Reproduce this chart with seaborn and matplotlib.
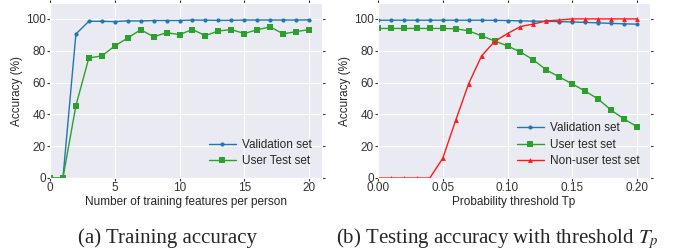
import numpy as np
import pandas as pd
import seaborn as sns
import matplotlib.pyplot as plt

# (a) training accuracy vs number of training features per person
n_features = list(range(21))
train_validation = [0, 0, 90.5, 98.5, 98.5, 98.3, 98.8, 98.7, 99.0, 99.0, 99.0,
                    99.3, 99.2, 99.1, 99.1, 99.3, 99.3, 99.3, 99.3, 99.3, 99.4]
train_user_test = [0, 0, 45.5, 75.5, 76.7, 83.0, 88.0, 93.2, 88.8, 91.3, 90.2,
                   93.3, 89.5, 92.4, 93.3, 90.8, 93.2, 95.0, 90.6, 92.0, 93.3]

# (b) testing accuracy vs probability threshold Tp
thresholds = [0.00, 0.01, 0.02, 0.03, 0.04, 0.05, 0.06, 0.07, 0.08, 0.09, 0.10,
              0.11, 0.12, 0.13, 0.14, 0.15, 0.16, 0.17, 0.18, 0.19, 0.20]
test_validation = [99.2, 99.2, 99.2, 99.2, 99.2, 99.2, 99.2, 99.2, 99.2, 99.1, 99.0,
                   98.8, 98.6, 98.5, 98.3, 98.1, 97.8, 97.5, 97.2, 96.9, 96.7]
test_user = [94.0, 94.0, 94.0, 94.0, 94.0, 94.0, 93.8, 92.5, 89.3, 86.2, 83.0,
             79.2, 74.2, 67.9, 63.5, 59.1, 54.6, 49.6, 42.7, 37.0, 32.3]
test_non_user = [0, 0, 0, 0, 0, 12.4, 36.3, 59.3, 76.8, 85.8, 90.8,
                 95.2, 96.8, 98.8, 99.3, 100, 100, 100, 100, 100, 100]

blue, green, red = "#1f77b4", "#2ca02c", "#ff1a1a"

sns.set_style("darkgrid", {"xtick.bottom": True, "ytick.left": True,
                           "xtick.top": True, "ytick.right": True,
                           "axes.facecolor": "#EAEAF2"})
plt.rcParams["font.family"] = ["Liberation Sans", "DejaVu Sans"]
plt.rcParams.update({"xtick.direction": "out", "ytick.direction": "out",
                     "xtick.major.size": 2, "ytick.major.size": 2,
                     "xtick.color": "#333333", "ytick.color": "#333333",
                     "mathtext.fontset": "stix"})

fs = 8.5
fig = plt.figure(figsize=(6.78, 2.52), dpi=100)
ax1 = fig.add_axes([50 / 678, 74 / 252, 272 / 678, 175 / 252])
ax2 = fig.add_axes([378 / 678, 74 / 252, 272 / 678, 175 / 252])

df1 = pd.DataFrame({"x": n_features, "Validation set": train_validation,
                    "User Test set": train_user_test})
sns.lineplot(data=df1, x="x", y="Validation set", ax=ax1, color=blue, lw=1,
             marker="o", markersize=3, markeredgewidth=0, label="Validation set")
sns.lineplot(data=df1, x="x", y="User Test set", ax=ax1, color=green, lw=1,
             marker="s", markersize=4.5, markeredgewidth=0, label="User Test set")
ax1.set(xlim=(0, 21), ylim=(0, 110), xticks=[0, 5, 10, 15, 20],
        yticks=[0, 20, 40, 60, 80, 100])
ax1.set_xlabel("Number of training features per person", fontsize=fs, labelpad=1)
ax1.set_ylabel("Accuracy (%)", fontsize=fs, labelpad=2)

df2 = pd.DataFrame({"t": thresholds, "val": test_validation,
                    "user": test_user, "nonuser": test_non_user})
sns.lineplot(data=df2, x="t", y="val", ax=ax2, color=blue, lw=1,
             marker="o", markersize=3, markeredgewidth=0, label="Validation set")
sns.lineplot(data=df2, x="t", y="user", ax=ax2, color=green, lw=1,
             marker="s", markersize=4.5, markeredgewidth=0, label="User test set")
sns.lineplot(data=df2, x="t", y="nonuser", ax=ax2, color=red, lw=1,
             marker="^", markersize=3.5, markeredgewidth=0, label="Non-user test set")
ax2.set(xlim=(0, 0.21), ylim=(0, 110), xticks=[0, 0.05, 0.10, 0.15, 0.20],
        yticks=[0, 20, 40, 60, 80, 100])
ax2.set_xticklabels(["0.00", "0.05", "0.10", "0.15", "0.20"])
ax2.set_xlabel("Probability threshold Tp", fontsize=fs, labelpad=1)
ax2.set_ylabel("Accuracy (%)", fontsize=fs, labelpad=2)

for ax in (ax1, ax2):
    ax.tick_params(labelsize=fs, pad=1)
    ax.legend(loc="lower right", frameon=False, fontsize=fs,
              handlelength=2.3, handletextpad=0.5, labelspacing=0.4)

fig.text(167 / 678, 0.035, "(a) Training accuracy", family="Liberation Serif",
         fontsize=15, ha="center", va="baseline")
fig.text(497 / 678, 0.035, "(b) Testing accuracy with threshold $T_p$",
         family="Liberation Serif", fontsize=15, ha="center", va="baseline")

fig.savefig("out.png", dpi=100)
